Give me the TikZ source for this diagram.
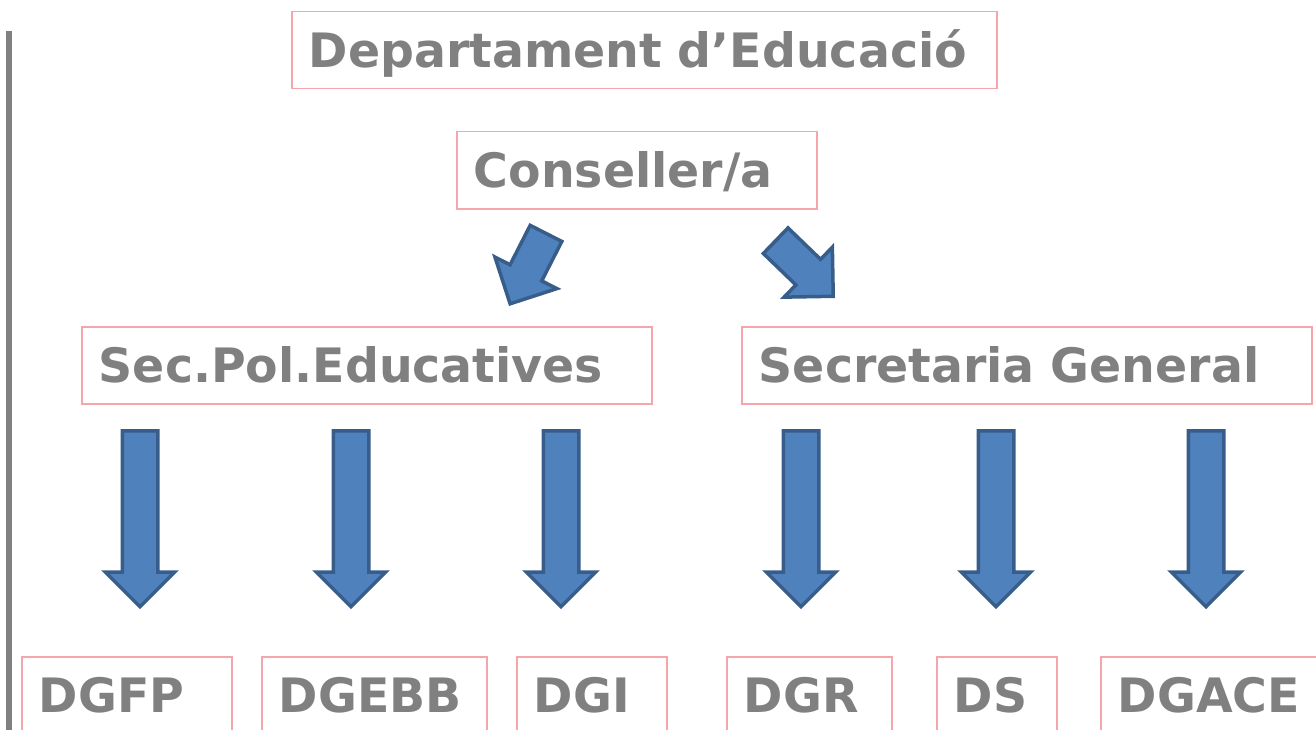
\documentclass[tikz,border=0pt]{standalone}
\usepackage{fontspec}
\setmainfont{DejaVu Sans}
\usepackage{xcolor}
\usetikzlibrary{shapes.arrows}
\definecolor{boxpink}{RGB}{244,166,170}
\definecolor{txtgray}{RGB}{128,128,128}
\definecolor{arrowblue}{RGB}{79,129,189}
\definecolor{arrowedge}{RGB}{56,93,138}
\tikzset{
	unit/.style={
			draw=boxpink, line width=1.5pt, text=txtgray,
			font=\bfseries\fontsize{47.4}{56}\selectfont,
			anchor=north west, minimum height=77pt,
			inner xsep=17pt, inner ysep=0pt,
			text height=45pt, text depth=10.4pt,
			align=left, text width=#1
		},
	blockarrow/.style={
			single arrow, draw=arrowedge, fill=arrowblue, line width=3.5pt,
			inner xsep=0pt, inner ysep=16pt, single arrow head extend=17pt,
			single arrow tip angle=90, minimum height=#1
		}
}

\begin{document}
\begin{tikzpicture}[x=1pt, y=-1pt]
		\useasboundingbox (0,0) rectangle (1316,730);
		\clip (0,0) rectangle (1316,730);
		\draw[txtgray, line width=6pt] (9,31) -- (9,730);
		% top
		\node[unit=671pt] (dept) at (291,11) {Departament~d’Educació};
		\node[unit=326pt] (cons) at (456,131) {Conseller/a};
		\node[blockarrow=79pt, rotate=-117, anchor=tip] (aleft) at (509,306) {};
		\node[blockarrow=80pt, rotate=-44, anchor=tip] (aright) at (835,298) {};
		% secretaries
		\node[unit=536pt] (sec) at (81,326) {Sec.Pol.Educatives};
		\node[unit=536pt] (sg) at (741,326) {Secretaria~General};
		\foreach \x/\name in {140/a1, 351/a2, 561/a3, 801/a4, 996/a5, 1206/a6}
			\node[blockarrow=176pt, rotate=-90, anchor=tail] (\name) at (\x,429) {};
		% directions
		\node[unit=176pt] (dgfp) at (21,656) {DGFP};
		\node[unit=191pt] (dgebb) at (261,656) {DGEBB};
		\node[unit=116pt] (dgi) at (516,656) {DGI};
		\node[unit=131pt] (dgr) at (726,656) {DGR};
		\node[unit=86pt] (ds) at (936,656) {DS};
		\node[unit=191pt] (dgace) at (1100,656) {DGACE};
	\end{tikzpicture}
\end{document}
